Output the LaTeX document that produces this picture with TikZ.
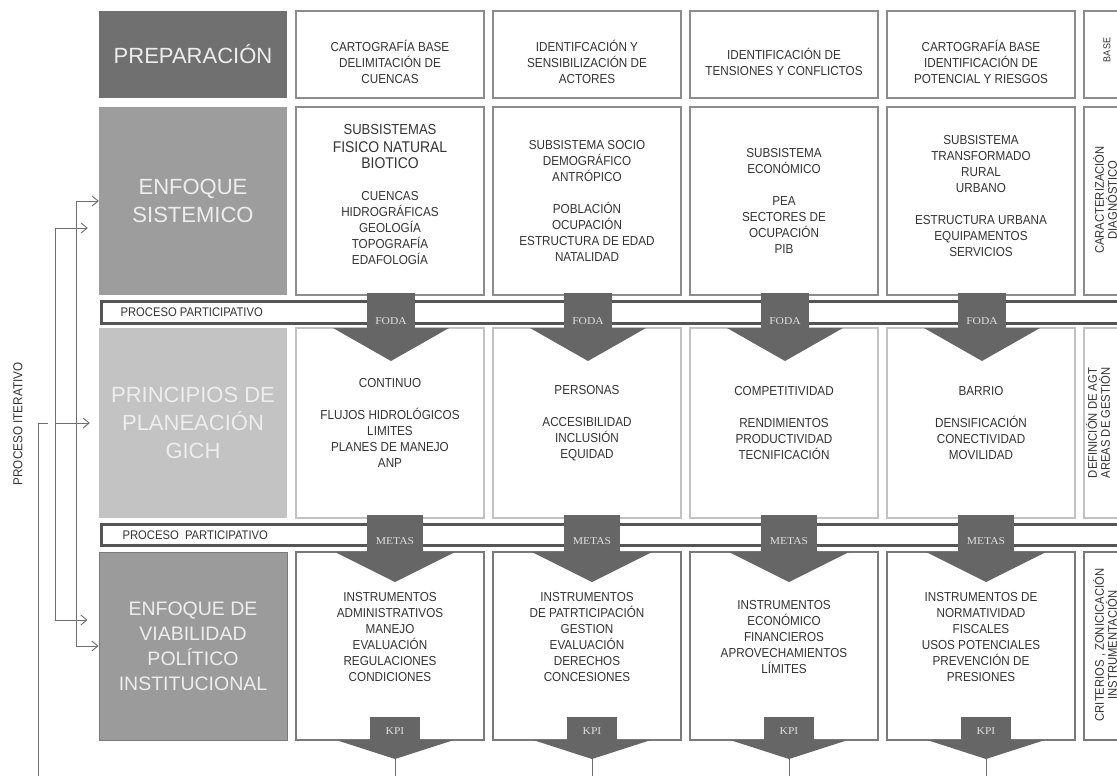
\documentclass[tikz,border=0pt]{standalone}
\usepackage{fontspec}
\usepackage{tikz}
\usepackage{xcolor}
\setmainfont{Liberation Sans}
\newfontfamily\narrowsans[FakeStretch=0.9]{Liberation Sans}
\newfontfamily\tabserif[FakeStretch=1.1]{Liberation Serif}
\usetikzlibrary{calc, arrows.meta}

\definecolor{prepgray}{HTML}{707070}
\definecolor{sistgray}{HTML}{9D9D9D}
\definecolor{princgray}{HTML}{C3C3C3}
\definecolor{viabgray}{HTML}{9B9B9B}
\definecolor{tabgray}{HTML}{666666}
\definecolor{bandline}{HTML}{555555}
\definecolor{boxline}{HTML}{8C8C8C}
\definecolor{lightline}{HTML}{C2C2C2}
\definecolor{darkline}{HTML}{7A7A7A}
\definecolor{textgray}{HTML}{333333}
\definecolor{loopgray}{HTML}{6E6E6E}

\tikzset{
  head/.style={minimum width=188pt, inner sep=0pt, align=center, text=white!93!black, font={\fontsize{22}{28}\selectfont}},
  colbox/.style={fill=white, line width=1.2pt, minimum width=188pt, inner sep=0pt},
  coltext/.style={align=center, text=textgray, font={\narrowsans\fontsize{13}{16}\selectfont}},
  sidetext/.style={rotate=90, align=center, text=textgray, font={\narrowsans\fontsize{12.5}{13}\selectfont}},
  bandtext/.style={anchor=west, text=textgray, font={\narrowsans\fontsize{12.5}{14}\selectfont}},
  tablabel/.style={text=white!87!black, font={\tabserif\fontsize{10.5}{11}\selectfont}},
  band/.style={draw=bandline, line width=2.6pt, fill=white},
  loopline/.style={draw=loopgray, line width=0.9pt},
}

\begin{document}
\begin{tikzpicture}[x=1pt, y=-1pt, >={Straight Barb[length=6pt,width=10pt]}]
      \useasboundingbox (0,0) rectangle (1117,776);
      \clip (0,0) rectangle (1117,776);
      \fill[white] (0,0) rectangle (1117,776);

      \node[head, fill=prepgray, minimum height=87pt] (prep) at (193,54.5) {PREPARACIÓN};
      \node[head, fill=sistgray, minimum height=188pt] (sist) at (193,201) {ENFOQUE\\SISTEMICO};
      \node[head, fill=princgray, minimum height=190pt] (princ) at (193,423) {PRINCIPIOS DE\\PLANEACIÓN\\GICH};
      \node[head, fill=viabgray, draw=darkline, line width=1pt, minimum height=188pt, font={\fontsize{19.5}{25}\selectfont}] (viab) at (193,646) {ENFOQUE DE\\VIABILIDAD\\POLÍTICO\\INSTITUCIONAL};

      \foreach \r/\cy/\h/\lc in {1/54.5/87/boxline, 2/201/188/boxline, 3/423/190/lightline, 4/646/188/darkline} {
          \foreach \c in {1,...,4} {
              \node[colbox, draw=\lc, minimum height=\h pt] (box\c-\r) at ({390+197*(\c-1)}, \cy) {};
          }
          \node[colbox, draw=\lc, minimum width=48pt, minimum height=\h pt] (side\r) at (1108,\cy) {};
      }

      \node[coltext] (t1-1) at (390,62) {CARTOGRAFÍA BASE\\DELIMITACIÓN DE\\CUENCAS};
      \node[coltext] (t2-1) at (587,62) {IDENTIFCACIÓN Y\\SENSIBILIZACIÓN DE\\ACTORES};
      \node[coltext] (t3-1) at (784,62) {IDENTIFICACIÓN DE\\TENSIONES Y CONFLICTOS};
      \node[coltext] (t4-1) at (981,62) {CARTOGRAFÍA BASE\\IDENTIFICACIÓN DE\\POTENCIAL Y RIESGOS};

      \node[coltext] (t1-2) at (390,194) {{\fontsize{14.5}{17}\selectfont SUBSISTEMAS}\\[2pt]{\fontsize{15.5}{18}\selectfont FISICO NATURAL}\\{\fontsize{15.5}{18}\selectfont BIOTICO}\\[16pt]CUENCAS\\HIDROGRÁFICAS\\GEOLOGÍA\\TOPOGRAFÍA\\EDAFOLOGÍA};
      \node[coltext] (t2-2) at (587,201) {SUBSISTEMA SOCIO\\DEMOGRÁFICO\\ANTRÓPICO\\[16pt]POBLACIÓN\\OCUPACIÓN\\ESTRUCTURA DE EDAD\\NATALIDAD};
      \node[coltext] (t3-2) at (784,201) {SUBSISTEMA\\ECONÓMICO\\[16pt]PEA\\SECTORES DE\\OCUPACIÓN\\PIB};
      \node[coltext] (t4-2) at (981,196) {SUBSISTEMA\\TRANSFORMADO\\RURAL\\URBANO\\[16pt]ESTRUCTURA URBANA\\EQUIPAMENTOS\\SERVICIOS};

      \node[coltext] (t1-3) at (390,423) {CONTINUO\\[16pt]FLUJOS HIDROLÓGICOS\\LIMITES\\PLANES DE MANEJO\\ANP};
      \node[coltext] (t2-3) at (587,423) {PERSONAS\\[16pt]ACCESIBILIDAD\\INCLUSIÓN\\EQUIDAD};
      \node[coltext] (t3-3) at (784,423) {COMPETITIVIDAD\\[16pt]RENDIMIENTOS\\PRODUCTIVIDAD\\TECNIFICACIÓN};
      \node[coltext] (t4-3) at (981,423) {BARRIO\\[16pt]DENSIFICACIÓN\\CONECTIVIDAD\\MOVILIDAD};

      \node[coltext] (t1-4) at (390,637) {INSTRUMENTOS\\ADMINISTRATIVOS\\MANEJO\\EVALUACIÓN\\REGULACIONES\\CONDICIONES};
      \node[coltext] (t2-4) at (587,637) {INSTRUMENTOS\\DE PATRTICIPACIÓN\\GESTION\\EVALUACIÓN\\DERECHOS\\CONCESIONES};
      \node[coltext] (t3-4) at (784,637) {INSTRUMENTOS\\ECONÓMICO\\FINANCIEROS\\APROVECHAMIENTOS\\LÍMITES};
      \node[coltext] (t4-4) at (981,637) {INSTRUMENTOS DE\\NORMATIVIDAD\\FISCALES\\USOS POTENCIALES\\PREVENCIÓN DE\\PRESIONES};

      \node[sidetext, font={\narrowsans\fontsize{10}{12}\selectfont}] (s1) at (1107,50) {BASE};
      \node[sidetext] (s2) at (1105,200) {CARACTERIZACIÓN\\DIAGNÓSTICO};
      \node[sidetext] (s3) at (1098,423) {DEFINICIÓN DE AGT\\AREAS DE GESTIÓN};
      \node[sidetext] (s4) at (1105,645) {CRITERIOS , ZONICICACIÓN\\INSTRUMENTACIÓN};

      \draw[band] (101.5,301.5) rectangle (1125,323.5);
      \draw[band] (101.5,524.5) rectangle (1125,545.5);
      \node[bandtext] (part1) at (117,312.5) {PROCESO PARTICIPATIVO};
      \node[bandtext] (part2) at (119,535) {PROCESO\ \ PARTICIPATIVO};

      \foreach \c [evaluate=\c as \x using 391+197*(\c-1)] in {1,...,4} {
          \fill[tabgray] (\x-24,293) rectangle (\x+24,328);
          \fill[tabgray] (\x-58,328) -- (\x+58,328) -- (\x,361) -- cycle;
          \node[tablabel] (foda\c) at (\x,321) {FODA};
      }

      \foreach \c [evaluate=\c as \x using 395+197*(\c-1)] in {1,...,4} {
          \fill[tabgray] (\x-28,515) rectangle (\x+28,552);
          \fill[tabgray] (\x-60,552) -- (\x+60,552) -- (\x,582) -- cycle;
          \node[tablabel] (metas\c) at (\x,541) {METAS};
      }

      \foreach \c [evaluate=\c as \x using 395+197*(\c-1)] in {1,...,4} {
          \fill[tabgray] (\x-25,717) rectangle (\x+25,740);
          \fill[tabgray] (\x-59,740) -- (\x+59,740) -- (\x,759) -- cycle;
          \node[tablabel] (kpi\c) at (\x,731) {KPI};
          \coordinate (kpitip\c) at (\x,759);
          \coordinate (kpiend\c) at (\x,776);
          \draw[loopgray, line width=0.8pt] (kpitip\c) -- (kpiend\c);
      }

      \node[coltext, rotate=90] (itera) at (18,424) {PROCESO ITERATIVO};

      \draw[loopline, <->] (sist.west) -- ++(-22,0) |- (viab.west);
      \draw[loopline, <->] ([shift={(-11,27)}]sist.west) -- ++(-32,0) |- ([shift={(-11,-26)}]viab.west);

      \coordinate (split) at (56,423);
      \draw[loopline, ->] (split) -- ([xshift=-9pt]princ.west);

      \coordinate (itertop) at (48,423);
      \coordinate (iterbot) at (38,776);
      \draw[loopline] (itertop) -- (iterbot |- itertop) -- (iterbot);
    \end{tikzpicture}
\end{document}
